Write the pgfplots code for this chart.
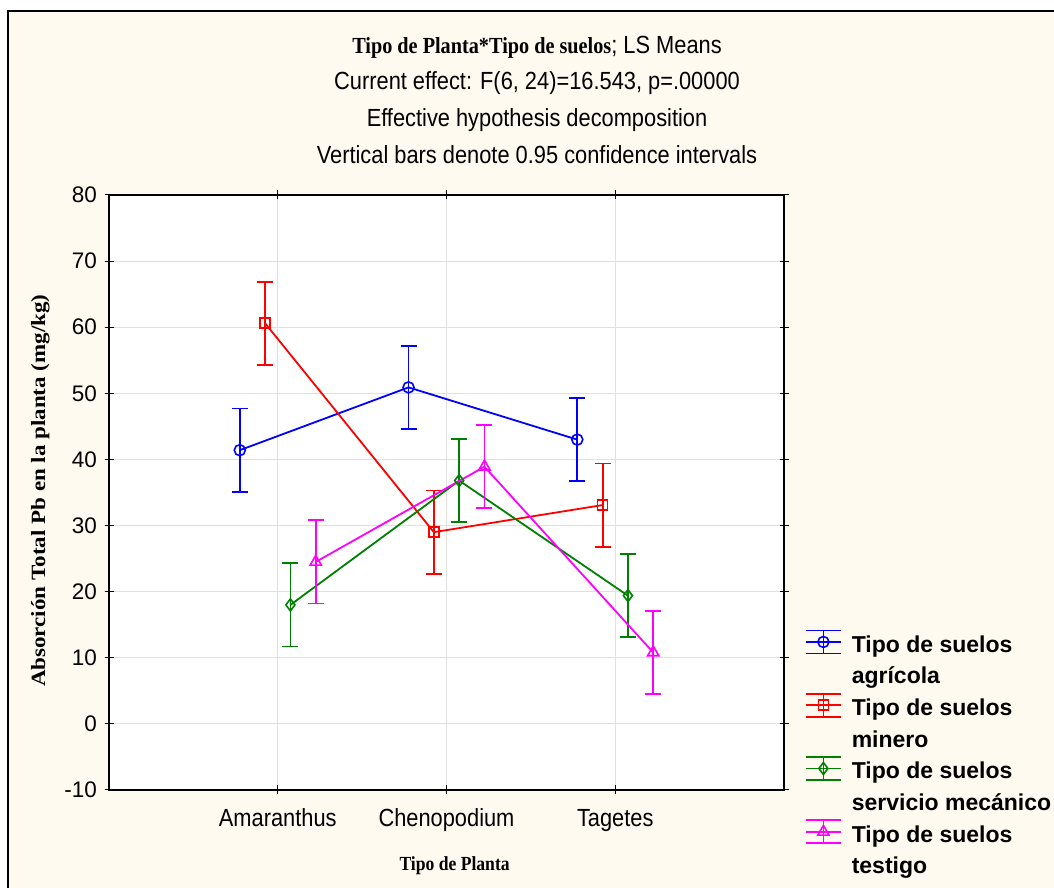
\documentclass[border=0pt]{standalone}
\usepackage{graphicx}
\usepackage{fontspec}
\usepackage{pgfplots}
\pgfplotsset{compat=1.18}
\setmainfont{Liberation Sans}
\newfontfamily\ar{Liberation Sans}
\newfontfamily\arc[FakeStretch=0.88]{Liberation Sans}
\newfontfamily\tm{Liberation Serif}
\newfontfamily\tmc[FakeStretch=0.88]{Liberation Serif}
\definecolor{cream}{RGB}{255,250,240}
\definecolor{sblue}{RGB}{0,0,255}
\definecolor{sred}{RGB}{255,0,0}
\definecolor{sgreen}{RGB}{0,128,0}
\definecolor{smag}{RGB}{255,0,255}

\pgfplotstableread{
x y e
0.775 41.4 6.3
1.775 50.9 6.3
2.775 43.0 6.3
}\agricola
\pgfplotstableread{
x y e
0.925 60.6 6.3
1.925 29.0 6.3
2.925 33.1 6.3
}\minero
\pgfplotstableread{
x y e
1.075 18.0 6.3
2.075 36.8 6.3
3.075 19.4 6.3
}\servicio
\pgfplotstableread{
x y e
1.225 24.5 6.3
2.225 38.9 6.3
3.225 10.8 6.3
}\testigo

\pgfplotsset{
  sty/.style n args={3}{
    color=#1, line width=1.8pt, mark=#2, mark size=#3, mark options={solid, #1, line width=1.6pt},
    error bars/y dir=both, error bars/y explicit,
    error bars/error bar style={#1, line width=1.8pt},
    error bars/error mark options={rotate=90, #1, line width=1.8pt, mark size=8pt},
    legend image code/.code={
      \draw[#1, line width=1.8pt] (0pt,-11.5pt) -- (35pt,-11.5pt);
      \draw[#1, line width=1.8pt] (0pt,11.5pt) -- (35pt,11.5pt);
      \draw[#1, line width=1.8pt] (17.5pt,-11.5pt) -- (17.5pt,11.5pt);
      \draw[#1, line width=1.8pt] (0pt,0pt) -- (35pt,0pt);
      \draw[#1, line width=1.6pt, mark=#2, mark size=#3] plot coordinates {(17.5pt,0pt)};
    },
  },
}

\begin{document}
\begin{tikzpicture}[x=1pt,y=1pt]
\useasboundingbox (0,0) rectangle (1054,888);
\fill[white] (0,0) rectangle (1054,888);
\fill[cream] (8,0) rectangle (1054,877);
\draw[line width=2.5pt] (8,-3) -- (8,877) -- (1057,877);

\node[anchor=base,inner sep=0pt] at (537,834.7)
  {{\tmc\fontsize{23}{23}\selectfont\bfseries Tipo de Planta*Tipo de suelos}{\arc\fontsize{24.8}{24.8}\selectfont; LS Means}};
\node[anchor=base,inner sep=0pt,font=\arc\fontsize{24.8}{24.8}\selectfont] at (537,798) {Current effect: F(6, 24)=16.543, p=.00000};
\node[anchor=base,inner sep=0pt,font=\arc\fontsize{24.8}{24.8}\selectfont] at (537,761.3) {Effective hypothesis decomposition};
\node[anchor=base,inner sep=0pt,font=\arc\fontsize{24.8}{24.8}\selectfont] at (537,724.6) {Vertical bars denote 0.95 confidence intervals};

\begin{axis}[
  at={(109pt,98pt)}, anchor=south west,
  width=675pt, height=595pt, scale only axis,
  xmin=0, xmax=4, ymin=-10, ymax=80,
  xtick={1,2,3}, xticklabels={Amaranthus,Chenopodium,Tagetes},
  ytick={-10,0,10,20,30,40,50,60,70,80},
  yticklabels={-10,0,10,20,30,40,50,60,70,80},
  axis background/.style={fill=white},
  axis line style={line width=2pt},
  tick align=center, major tick length=9pt,
  tick style={line width=1pt, black},
  grid=major, major grid style={draw=black!12, line width=1pt},
  xticklabel style={font=\arc\fontsize{24.8}{24.8}\selectfont, anchor=base, inner sep=0pt, yshift=-32pt},
  yticklabel style={font=\ar\fontsize{22.5}{22.5}\selectfont, anchor=east, inner sep=0pt, xshift=-7.5pt},
  xlabel={\tmc\fontsize{20}{20}\selectfont\bfseries Tipo de Planta},
  xlabel style={at={(axis description cs:0.512,-0.1345)}, anchor=base, inner sep=0pt},
  ylabel={\scalebox{1}[0.88]{\tm\fontsize{23}{23}\selectfont\bfseries Absorción Total Pb en la planta (mg/kg)}},
  ylabel style={at={(axis description cs:-0.0948,0.503)}, anchor=base, inner sep=0pt},
  legend style={at={(axis description cs:1.0311,0.2697)}, anchor=north west, draw=none, fill=none,
    inner sep=0pt, outer sep=0pt, row sep=38.5pt, column sep=10pt,
    nodes={inner sep=0pt, font=\ar\fontsize{23}{31.5}\selectfont\bfseries}},
  legend cell align=left,
]
\addplot[sty={sblue}{o}{5.5pt}] table[x=x, y=y, y error=e] {\agricola};
\addlegendentry{\begin{tabular}[t]{@{}l@{}}Tipo de suelos\\agrícola\end{tabular}}
\addplot[sty={sred}{square}{5pt}] table[x=x, y=y, y error=e] {\minero};
\addlegendentry{\begin{tabular}[t]{@{}l@{}}Tipo de suelos\\minero\end{tabular}}
\addplot[sty={sgreen}{diamond}{6pt}] table[x=x, y=y, y error=e] {\servicio};
\addlegendentry{\begin{tabular}[t]{@{}l@{}}Tipo de suelos\\servicio mecánico\end{tabular}}
\addplot[sty={smag}{triangle}{6.5pt}] table[x=x, y=y, y error=e] {\testigo};
\addlegendentry{\begin{tabular}[t]{@{}l@{}}Tipo de suelos\\testigo\end{tabular}}
\end{axis}
\end{tikzpicture}
\end{document}
